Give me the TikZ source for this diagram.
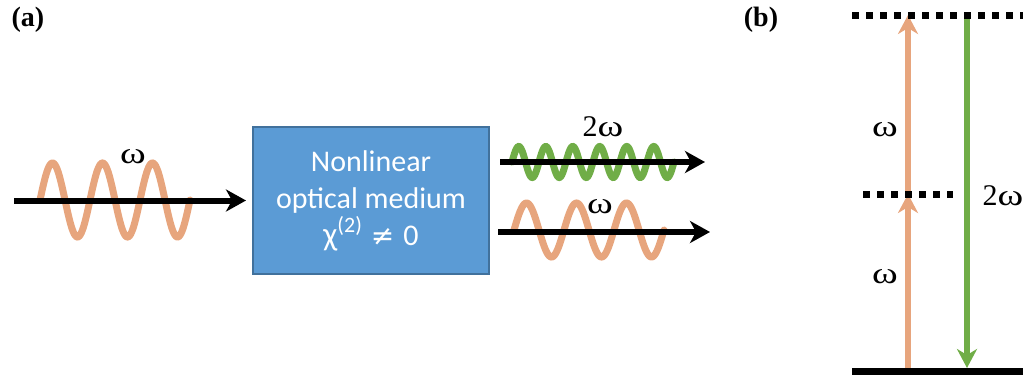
\documentclass[tikz,border=0pt]{standalone}
\usepackage{fontspec}
\usepackage{graphicx}
\setmainfont{Liberation Serif}
\newfontfamily\boxfont{Carlito}
\newfontfamily\symfont{DejaVu Sans}
\usetikzlibrary{arrows.meta}
\definecolor{wavorange}{RGB}{231,165,125}
\definecolor{wavgreen}{RGB}{112,173,71}
\definecolor{boxfill}{RGB}{91,155,213}
\definecolor{boxedge}{RGB}{65,113,156}
\newcommand{\om}{\scalebox{1.3}[1]{ω}}
\begin{document}
\begin{tikzpicture}[x=1pt,y=-1pt,
  beam/.style={line width=6pt,-{Stealth[length=20pt,width=22pt,inset=6pt]}},
  wave/.style={line width=7pt,line cap=round},
  level/.style={line width=7pt,dash pattern=on 7pt off 7pt},
  trans/.style={line width=6pt,-{Stealth[length=19pt,width=20pt,inset=6pt]}},
  lbl/.style={font=\fontsize{30}{34}\selectfont,inner sep=0pt},
  panel/.style={font=\fontsize{28}{32}\selectfont\bfseries,inner sep=0pt},
  mediumbox/.style={minimum width=236pt,minimum height=147pt,fill=boxfill,draw=boxedge,line width=2pt,
    text=white,align=center,font=\boxfont\fontsize{30}{37}\selectfont}]
\useasboundingbox (0,0) rectangle (1033,376);

% panel labels
\node[panel] (pa) at (28,20) {(a)};
\node[panel] (pb) at (761,20) {(b)};

% nonlinear medium
\node[mediumbox] (medium) at (371,200.5) {Nonlinear\\optical medium\\\scalebox{1.1}{χ}\raisebox{0.42em}{\fontsize{22}{22}\selectfont(2)}\hspace{9pt}{\symfont\fontsize{28}{30}\selectfont ≠}\hspace{9pt}0};

% input beam
\draw[wave,wavorange] plot[domain=0:150,samples=150,smooth] ({40+\x},{200-37*sin(\x*7.2)});
\coordinate (inS) at (14,200.5);
\draw[beam] (inS) -- ([xshift=-6pt]medium.west);
\node[lbl] (win) at (133,157) {\om};

% output second harmonic
\draw[wave,wavgreen] plot[domain=0:162,samples=200,smooth] ({512+\x},{162-15.5*sin(\x*13.3333)});
\coordinate (o1s) at (500,162);
\coordinate (o1e) at (705,162);
\draw[beam] (o1s) -- (o1e);
\node[lbl] (w2out) at (603,127) {2\om};

% output fundamental
\draw[wave,wavorange] plot[domain=0:150,samples=150,smooth] ({514+\x},{230-27*sin(\x*7.2)});
\coordinate (o2s) at (498,232);
\coordinate (o2e) at (710,232);
\draw[beam] (o2s) -- (o2e);
\node[lbl] (wout) at (600,207) {\om};

% panel (b): energy levels
\coordinate (topL) at (852,15);
\coordinate (topR) at (1023,15);
\coordinate (midL) at (863,194);
\coordinate (midR) at (953,194);
\coordinate (gndL) at (852,371);
\coordinate (gndR) at (1023,371);
\coordinate (oa0) at (908,368);
\coordinate (oa1) at (908,194);
\coordinate (oa2) at (908,15);
\coordinate (ga0) at (967,13);
\coordinate (ga1) at (967,368);

\draw[trans,wavorange] (oa0) -- (oa1);
\draw[trans,wavorange] (oa1) -- (oa2);
\draw[trans,wavgreen] (ga0) -- (ga1);

\draw[level] (topL) -- (topR);
\draw[level] (midL) -- (midR);
\draw[line width=7pt] (gndL) -- (gndR);

\node[lbl] (wb1) at (885,130) {\om};
\node[lbl] (wb2) at (885,277) {\om};
\node[lbl] (w2b) at (1003,196) {2\om};
\end{tikzpicture}
\end{document}
